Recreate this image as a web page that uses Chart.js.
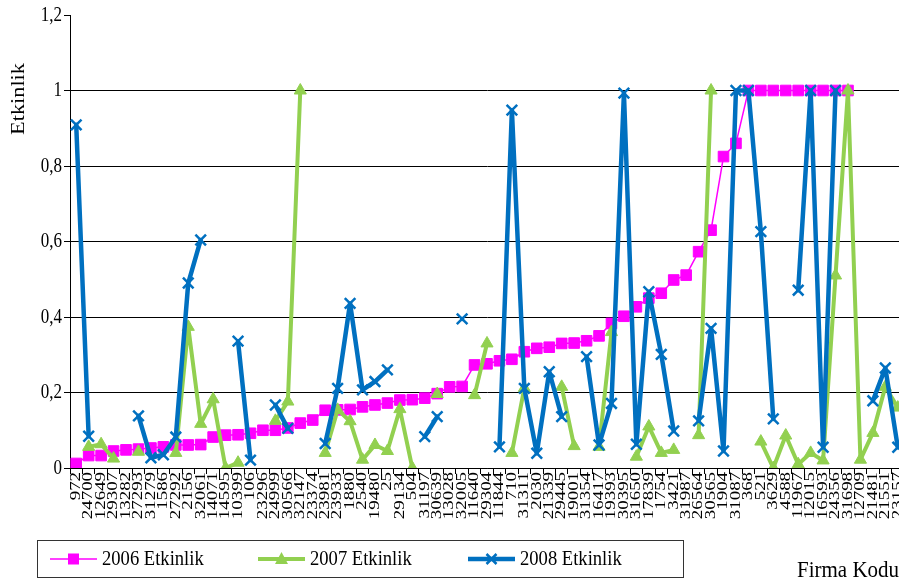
<!DOCTYPE html>
<html>
<head>
<meta charset="utf-8">
<script src="https://cdn.jsdelivr.net/npm/chart.js@4.4.1/dist/chart.umd.min.js"></script>
<style>
  html, body { margin: 0; padding: 0; overflow: hidden; background: #ffffff; }
  #wrap { position: relative; width: 960px; height: 582px; }
</style>
</head>
<body>
<div id="wrap"><canvas id="c" width="960" height="582"></canvas></div>
<script>
// Firm codes along the category axis (sorted by 2006 efficiency)
const firmCodes = [
  '972','24700','12649','29307','13282','27293','31279','1586','27292','2156',
  '32061','14071','14595','10399','106','23296','24999','30566','32147','23374',
  '23981','23933','1880','2540','19480','25','29134','504','31197','30639',
  '13028','32005','11640','29304','11844','710','31311','2030','21339','29445',
  '19001','31354','16417','19393','30395','31650','17839','1754','3421','31987',
  '26564','30565','1904','31087','368','521','3629','4588','11967','12015',
  '16593','24356','31698','12709','21481','21551','23157'
];

const eff2006 = [
  0.012,0.033,0.033,0.045,0.048,0.05,0.053,0.056,0.061,0.061,
  0.062,0.082,0.087,0.088,0.092,0.1,0.1,0.106,0.119,0.127,
  0.153,0.154,0.155,0.162,0.167,0.172,0.18,0.181,0.185,0.197,
  0.215,0.216,0.273,0.276,0.284,0.288,0.308,0.317,0.32,0.33,
  0.331,0.337,0.35,0.383,0.402,0.427,0.45,0.463,0.498,0.511,
  0.573,0.63,0.825,0.86,1,1,1,1,1,1,
  1,1,1,null,null,null,null
];

const eff2007 = [
  null,0.056,0.063,0.025,null,0.043,null,null,0.04,0.374,
  0.117,0.182,0.0,0.014,null,null,0.125,0.176,1.0,null,
  0.04,0.154,0.124,0.022,0.061,0.045,0.156,0.0,null,0.196,
  null,null,0.193,0.33,null,0.04,0.212,null,null,0.215,
  0.058,null,0.056,0.36,null,0.03,0.11,0.04,0.048,null,
  0.087,1.0,null,null,null,0.07,0.0,0.086,0.01,0.04,
  0.02,0.51,1.0,0.022,0.093,0.215,0.16
];

const eff2008 = [
  0.909,0.084,null,null,null,0.138,0.027,0.035,0.082,0.49,
  0.604,null,null,0.336,0.021,null,0.167,0.105,null,null,
  0.065,0.211,0.436,0.207,0.229,0.26,null,null,0.083,0.136,
  null,0.395,null,null,0.056,0.948,0.211,0.039,0.255,0.136,
  null,0.295,0.061,0.171,0.993,0.063,0.467,0.301,0.098,null,
  0.125,0.37,0.045,1.0,1.0,0.626,0.13,null,0.471,1.0,
  0.055,1.0,null,null,0.178,0.265,0.055
];

const yTickValues = [0, 0.2, 0.4, 0.6, 0.8, 1, 1.2];
const yTickLabels = ['0', '0,2', '0,4', '0,6', '0,8', '1', '1,2'];

const seriesNames = ['2006 Etkinlik', '2007 Etkinlik', '2008 Etkinlik'];
const yAxisTitle = 'Etkinlik';
const xAxisTitle = 'Firma Kodu';

const COL_2006 = '#ff00ff';
const COL_2007 = '#92d050';
const COL_2008 = '#0070c0';
const SERIF = '"Liberation Serif", "Times New Roman", serif';

// marker shapes used in the legend, matching the dataset point styles
function drawMarker(ctx, style, x, y, color) {
  ctx.save();
  ctx.fillStyle = color;
  ctx.strokeStyle = color;
  if (style === 'rect') {
    ctx.fillRect(x - 5.5, y - 5.5, 11, 11);
  } else if (style === 'triangle') {
    ctx.beginPath();
    ctx.moveTo(x, y - 7);
    ctx.lineTo(x + 6.5, y + 5);
    ctx.lineTo(x - 6.5, y + 5);
    ctx.closePath();
    ctx.fill();
  } else {
    ctx.lineWidth = 2.5;
    ctx.beginPath();
    ctx.moveTo(x - 5, y - 5); ctx.lineTo(x + 5, y + 5);
    ctx.moveTo(x + 5, y - 5); ctx.lineTo(x - 5, y + 5);
    ctx.stroke();
  }
  ctx.restore();
}

// all chart text: axis labels, axis titles and the boxed legend
const textPlugin = {
  id: 'chartText',
  afterDraw(chart) {
    const ctx = chart.ctx;
    const xs = chart.scales.x;
    const ys = chart.scales.y;
    ctx.save();
    ctx.fillStyle = '#000';

    // category labels, rotated to read bottom-to-top
    ctx.font = '14.5px ' + SERIF;
    ctx.textAlign = 'right';
    ctx.textBaseline = 'middle';
    firmCodes.forEach((code, i) => {
      const x = xs.getPixelForTick(i);
      ctx.save();
      ctx.translate(x, xs.top + 4);
      ctx.rotate(-Math.PI / 2);
      ctx.scale(1.3, 1);
      ctx.fillText(code, 0, 0);
      ctx.restore();
    });

    // value labels
    ctx.font = '17px ' + SERIF;
    ctx.textAlign = 'right';
    ctx.textBaseline = 'middle';
    yTickValues.forEach((v, i) => {
      const y = ys.getPixelForValue(v);
      ctx.save();
      ctx.translate(ys.right - 8, y);
      ctx.scale(1, 1.25);
      ctx.fillText(yTickLabels[i], 0, 0);
      ctx.restore();
    });

    // vertical axis title
    ctx.save();
    ctx.font = '18px ' + SERIF;
    ctx.textAlign = 'center';
    ctx.textBaseline = 'middle';
    ctx.translate(19, 99);
    ctx.rotate(-Math.PI / 2);
    ctx.scale(1.24, 1);
    ctx.fillText(yAxisTitle, 0, 0);
    ctx.restore();

    // horizontal axis title
    ctx.save();
    ctx.font = '21px ' + SERIF;
    ctx.textAlign = 'left';
    ctx.textBaseline = 'middle';
    ctx.translate(797, 571);
    ctx.scale(1, 1.1);
    ctx.fillText(xAxisTitle, 0, 0);
    ctx.restore();

    // legend box
    ctx.strokeStyle = '#333';
    ctx.lineWidth = 1;
    ctx.strokeRect(37.5, 540.5, 646, 37);
    const items = [
      { x: 50,  color: COL_2006, width: 1.5, style: 'rect' },
      { x: 258, color: COL_2007, width: 4,   style: 'triangle' },
      { x: 468, color: COL_2008, width: 4.5, style: 'cross' }
    ];
    const ly = 559;
    items.forEach((it, i) => {
      ctx.save();
      ctx.strokeStyle = it.color;
      ctx.lineWidth = it.width;
      ctx.beginPath();
      ctx.moveTo(it.x, ly);
      ctx.lineTo(it.x + 47, ly);
      ctx.stroke();
      ctx.restore();
      drawMarker(ctx, it.style, it.x + 23.5, ly, it.color);
      ctx.save();
      ctx.fillStyle = '#000';
      ctx.font = '18.6px ' + SERIF;
      ctx.textAlign = 'left';
      ctx.textBaseline = 'middle';
      ctx.translate(it.x + 52, ly);
      ctx.scale(1, 1.15);
      ctx.fillText(seriesNames[i], 0, 0);
      ctx.restore();
    });
    ctx.restore();
  }
};

new Chart(document.getElementById('c'), {
  type: 'line',
  data: {
    labels: firmCodes,
    datasets: [
      {
        label: seriesNames[0],
        data: eff2006,
        borderColor: COL_2006,
        backgroundColor: COL_2006,
        borderWidth: 1.5,
        pointStyle: 'rect',
        pointRadius: 7.5,
        pointBorderWidth: 1,
        pointBackgroundColor: COL_2006,
        pointBorderColor: COL_2006,
        tension: 0,
        order: 2
      },
      {
        label: seriesNames[1],
        data: eff2007,
        borderColor: COL_2007,
        backgroundColor: COL_2007,
        borderWidth: 4,
        borderJoinStyle: 'round',
        borderCapStyle: 'round',
        pointStyle: 'triangle',
        pointRadius: 7,
        pointBorderWidth: 1,
        pointBackgroundColor: COL_2007,
        pointBorderColor: COL_2007,
        tension: 0,
        order: 1
      },
      {
        label: seriesNames[2],
        data: eff2008,
        borderColor: COL_2008,
        backgroundColor: COL_2008,
        borderWidth: 4.5,
        borderJoinStyle: 'round',
        borderCapStyle: 'round',
        pointStyle: 'crossRot',
        pointRadius: 7.5,
        pointBorderWidth: 2.5,
        pointBorderColor: COL_2008,
        tension: 0,
        order: 0
      }
    ]
  },
  options: {
    responsive: false,
    devicePixelRatio: 1,
    animation: false,
    events: [],
    layout: { padding: { top: 15, right: 56, bottom: 0, left: 0 } },
    plugins: {
      legend: { display: false },
      tooltip: { enabled: false },
      title: { display: false }
    },
    scales: {
      x: {
        type: 'category',
        offset: true,
        grid: {
          offset: true,
          drawOnChartArea: false,
          drawTicks: true,
          tickLength: 6,
          color: '#000',
          lineWidth: 1
        },
        border: { display: true, color: '#000', width: 1 },
        ticks: { display: false, autoSkip: false },
        afterFit(scale) { scale.height = 114; }
      },
      y: {
        min: 0,
        max: 1.2,
        grid: {
          color: (c) => (c.tick && Math.abs(c.tick.value - 1.2) < 1e-9) ? 'rgba(0,0,0,0)' : '#000',
          tickColor: '#000',
          tickLength: 6,
          lineWidth: 1
        },
        border: { display: true, color: '#000', width: 1 },
        ticks: { display: false, stepSize: 0.2 },
        afterFit(scale) { scale.width = 70; }
      }
    }
  },
  plugins: [textPlugin]
});
</script>
</body>
</html>
